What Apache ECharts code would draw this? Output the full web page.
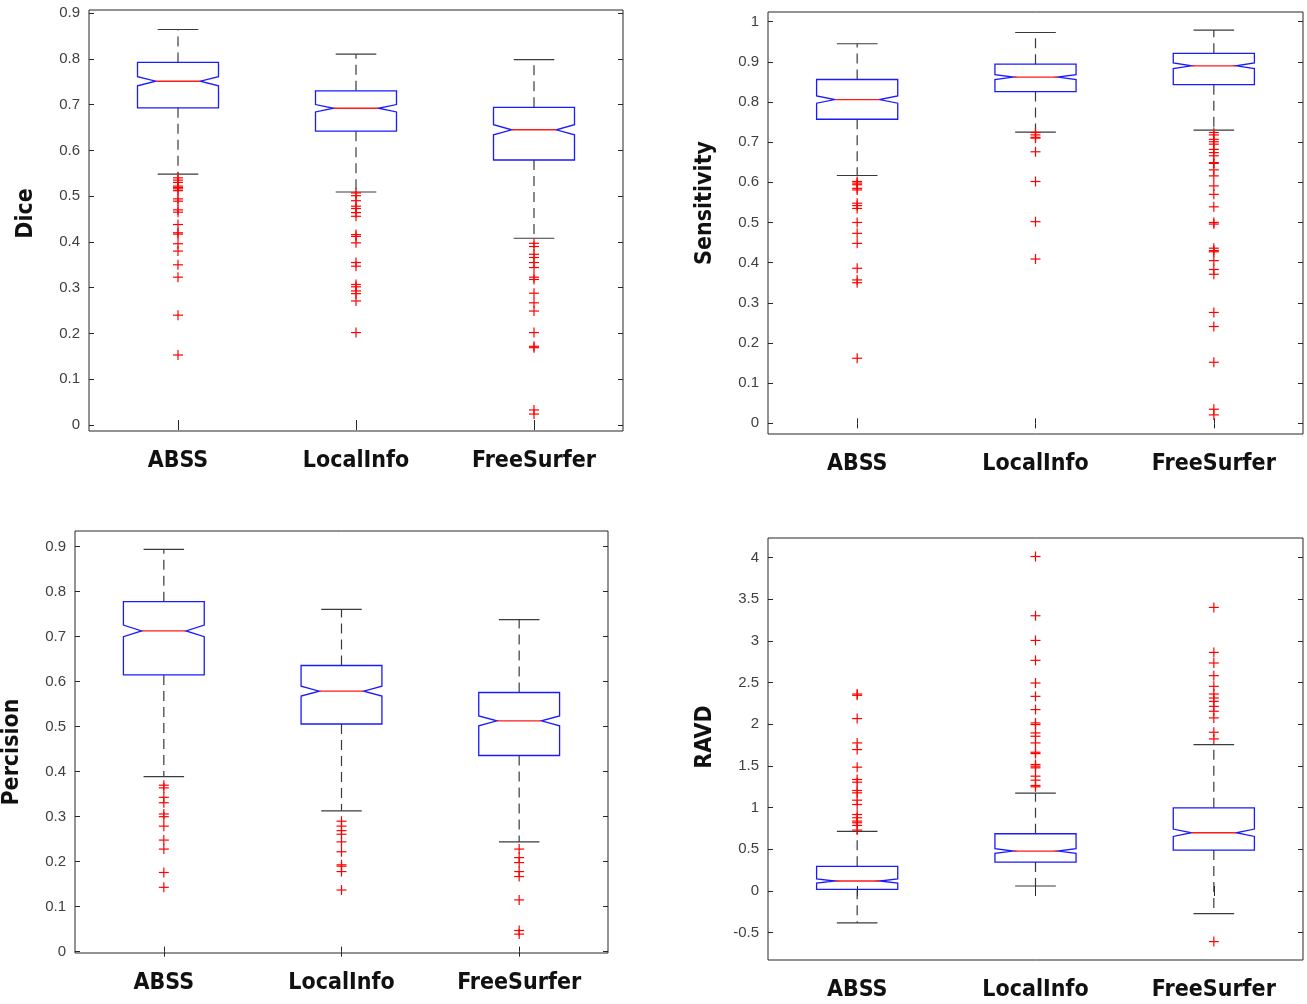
<!DOCTYPE html>
<html>
<head>
<meta charset="utf-8">
<script src="https://cdn.jsdelivr.net/npm/echarts@6/dist/echarts.min.js"></script>
<style>
html,body{margin:0;padding:0;background:#fff;}
#chart{width:1307px;height:1004px;}
</style>
</head>
<body>
<div id="chart"></div>
<script>
// ---------- data ----------
const categories = ['ABSS', 'LocalInfo', 'FreeSurfer'];

// per category: [lower whisker, Q1, median, Q3, upper whisker]
const diceBoxes = [[0.548, 0.693, 0.751, 0.792, 0.864], [0.509, 0.642, 0.692, 0.730, 0.810], [0.408, 0.579, 0.645, 0.694, 0.798]];
const diceNotch = [0.010, 0.008, 0.011];
const diceOutliers = [
  [0.540, 0.535, 0.530, 0.522, 0.519, 0.516, 0.512, 0.494, 0.489, 0.470, 0.465, 0.438, 0.420, 0.417, 0.396, 0.380, 0.350, 0.323, 0.240, 0.153],
  [0.507, 0.501, 0.490, 0.478, 0.473, 0.464, 0.456, 0.416, 0.412, 0.398, 0.355, 0.347, 0.307, 0.302, 0.293, 0.287, 0.271, 0.202],
  [0.397, 0.390, 0.373, 0.366, 0.355, 0.344, 0.323, 0.318, 0.288, 0.267, 0.249, 0.202, 0.172, 0.169, 0.033, 0.024]
];
const diceTicks = [0, 0.1, 0.2, 0.3, 0.4, 0.5, 0.6, 0.7, 0.8, 0.9];

const sensBoxes = [[0.617, 0.757, 0.806, 0.856, 0.945], [0.725, 0.826, 0.862, 0.894, 0.973], [0.730, 0.843, 0.890, 0.921, 0.979]];
const sensNotch = [0.009, 0.006, 0.007];
const sensOutliers = [
  [0.602, 0.598, 0.594, 0.585, 0.581, 0.548, 0.542, 0.535, 0.500, 0.473, 0.448, 0.386, 0.357, 0.350, 0.162],
  [0.724, 0.718, 0.712, 0.710, 0.676, 0.602, 0.502, 0.409],
  [0.724, 0.718, 0.707, 0.701, 0.695, 0.682, 0.674, 0.666, 0.649, 0.647, 0.631, 0.616, 0.591, 0.570, 0.539, 0.500, 0.496, 0.436, 0.430, 0.427, 0.405, 0.383, 0.371, 0.276, 0.241, 0.152, 0.035, 0.021]
];
const sensTicks = [0, 0.1, 0.2, 0.3, 0.4, 0.5, 0.6, 0.7, 0.8, 0.9, 1];

const precBoxes = [[0.389, 0.615, 0.713, 0.778, 0.894], [0.313, 0.506, 0.579, 0.636, 0.761], [0.244, 0.436, 0.513, 0.576, 0.738]];
const precNotch = [0.013, 0.011, 0.011];
const precOutliers = [
  [0.370, 0.364, 0.343, 0.331, 0.306, 0.300, 0.279, 0.248, 0.228, 0.176, 0.143],
  [0.290, 0.279, 0.269, 0.261, 0.244, 0.222, 0.193, 0.190, 0.178, 0.137],
  [0.228, 0.209, 0.198, 0.178, 0.167, 0.115, 0.047, 0.039]
];
const precTicks = [0, 0.1, 0.2, 0.3, 0.4, 0.5, 0.6, 0.7, 0.8, 0.9];

const ravdBoxes = [[-0.383, 0.020, 0.120, 0.296, 0.715], [0.060, 0.347, 0.479, 0.687, 1.174], [-0.272, 0.491, 0.699, 0.998, 1.757]];
const ravdNotch = [0.024, 0.028, 0.044];
const ravdOutliers = [
  [2.364, 2.348, 2.069, 1.777, 1.697, 1.486, 1.338, 1.306, 1.206, 1.178, 1.090, 1.038, 0.918, 0.879, 0.839, 0.819, 0.787, 0.731],
  [4.014, 3.303, 3.007, 2.768, 2.496, 2.336, 2.177, 2.017, 1.997, 1.897, 1.857, 1.777, 1.665, 1.649, 1.518, 1.498, 1.478, 1.378, 1.330, 1.266, 1.250],
  [3.403, 2.863, 2.736, 2.584, 2.456, 2.364, 2.316, 2.276, 2.216, 2.157, 2.077, 1.905, 1.825, -0.607]
];
const ravdTicks = [-0.5, 0, 0.5, 1, 1.5, 2, 2.5, 3, 3.5, 4];

// ---------- panels (layout) ----------
const panels = [
  { name: 'Dice', boxes: diceBoxes, notch: diceNotch, outliers: diceOutliers, ticks: diceTicks,
    min: -0.013, max: 0.9066, grid: { left: 89, top: 10, width: 534, height: 421 }, namePad: [0, 0, 0, 14] },
  { name: 'Sensitivity', boxes: sensBoxes, notch: sensNotch, outliers: sensOutliers, ticks: sensTicks,
    min: -0.0266, max: 1.024, grid: { left: 768, top: 12, width: 535, height: 422 }, namePad: [0, 0, 0, 40] },
  { name: 'Percision', boxes: precBoxes, notch: precNotch, outliers: precOutliers, ticks: precTicks,
    min: -0.003, max: 0.935, grid: { left: 74, top: 531, width: 534, height: 422 }, namePad: [0, 20, 0, 0] },
  { name: 'RAVD', boxes: ravdBoxes, notch: ravdNotch, outliers: ravdOutliers, ticks: ravdTicks,
    min: -0.828, max: 4.236, grid: { left: 768, top: 538, width: 535, height: 422 }, namePad: [0, 0, 0, 24] }
];

const AXIS_COLOR = '#262626';
const LABEL_COLOR = '#404040';
const BOLD_FONT = "'Liberation Sans Narrow', 'DejaVu Sans Condensed', sans-serif";

function fmt(v) { return String(+(+v).toFixed(3)); }

const grids = [], xAxes = [], yAxes = [], series = [];

function renderBox(params, api) {
  const cat = api.value(0);
  const lw = api.value(1), q1 = api.value(2), med = api.value(3), q3 = api.value(4), uw = api.value(5), nh = api.value(6);
  const band = api.size([1, 0])[0];
  const c = api.coord([cat, med]);
  const cx = c[0];
  const hw = band * 0.2275;
  const capHw = band * 0.114;
  const inset = hw * 0.45;
  const L = cx - hw, R = cx + hw;
  const yMed = c[1];
  const yQ1 = api.coord([cat, q1])[1];
  const yQ3 = api.coord([cat, q3])[1];
  const yLW = api.coord([cat, lw])[1];
  const yUW = api.coord([cat, uw])[1];
  const yNHi = api.coord([cat, med + nh])[1];
  const yNLo = api.coord([cat, med - nh])[1];
  const wStyle = { stroke: '#3a3a3a', lineWidth: 1.2, lineDash: [10, 6] };
  const capStyle = { stroke: '#3a3a3a', lineWidth: 1.2 };
  return {
    type: 'group',
    children: [
      { type: 'line', shape: { x1: cx, y1: yQ3, x2: cx, y2: yUW }, style: wStyle },
      { type: 'line', shape: { x1: cx, y1: yQ1, x2: cx, y2: yLW }, style: wStyle },
      { type: 'line', shape: { x1: cx - capHw, y1: yUW, x2: cx + capHw, y2: yUW }, style: capStyle },
      { type: 'line', shape: { x1: cx - capHw, y1: yLW, x2: cx + capHw, y2: yLW }, style: capStyle },
      { type: 'polygon', shape: { points: [
          [L, yQ3], [R, yQ3], [R, yNHi], [R - inset, yMed], [R, yNLo], [R, yQ1],
          [L, yQ1], [L, yNLo], [L + inset, yMed], [L, yNHi]
        ] }, style: { fill: null, stroke: '#1a1aff', lineWidth: 1.3 } },
      { type: 'line', shape: { x1: L + inset, y1: yMed, x2: R - inset, y2: yMed }, style: { stroke: '#ff1a1a', lineWidth: 1.3 } }
    ]
  };
}

function renderPlus(params, api) {
  const p = api.coord([api.value(0), api.value(1)]);
  const s = 5;
  const st = { stroke: '#ff0000', lineWidth: 1.2 };
  return {
    type: 'group',
    children: [
      { type: 'line', shape: { x1: p[0] - s, y1: p[1], x2: p[0] + s, y2: p[1] }, style: st },
      { type: 'line', shape: { x1: p[0], y1: p[1] - s, x2: p[0], y2: p[1] + s }, style: st }
    ]
  };
}

panels.forEach((p, i) => {
  grids.push(Object.assign({ show: true, borderColor: AXIS_COLOR, borderWidth: 1, backgroundColor: '#fff', containLabel: false }, p.grid));
  const xBase = {
    type: 'category', gridIndex: i, data: categories, boundaryGap: true,
    axisLine: { show: false }, splitLine: { show: false }
  };
  xAxes.push(Object.assign({}, xBase, {
    position: 'bottom',
    axisTick: { show: true, inside: true, alignWithLabel: true, length: 5, lineStyle: { color: AXIS_COLOR } },
    axisLabel: { show: true, interval: 0, hideOverlap: false, margin: 19, color: '#111', fontSize: 23, fontWeight: 'bold',
      fontFamily: BOLD_FONT }
  }));
  xAxes.push(Object.assign({}, xBase, {
    position: 'top',
    axisTick: { show: true, inside: true, alignWithLabel: true, length: 5, lineStyle: { color: AXIS_COLOR } },
    axisLabel: { show: false }
  }));
  const yBase = {
    type: 'value', gridIndex: i, min: p.min, max: p.max, scale: true,
    axisLine: { show: false }, splitLine: { show: false }
  };
  yAxes.push(Object.assign({}, yBase, {
    position: 'left',
    name: p.name, nameLocation: 'middle', nameRotate: 90, nameGap: 51,
    nameTextStyle: { color: '#111', fontSize: 23, fontWeight: 'bold', padding: p.namePad, fontFamily: BOLD_FONT },
    axisTick: { show: true, inside: true, length: 5, customValues: p.ticks, lineStyle: { color: AXIS_COLOR } },
    axisLabel: { show: true, customValues: p.ticks, margin: 9, color: LABEL_COLOR, fontSize: 15,
      fontFamily: "'Liberation Sans', Arial, sans-serif", formatter: fmt }
  }));
  yAxes.push(Object.assign({}, yBase, {
    position: 'right',
    axisTick: { show: true, inside: true, length: 5, customValues: p.ticks, lineStyle: { color: AXIS_COLOR } },
    axisLabel: { show: false }
  }));

  const boxData = p.boxes.map((b, k) => [k, b[0], b[1], b[2], b[3], b[4], p.notch[k]]);
  series.push({
    type: 'custom', name: p.name + ' box', xAxisIndex: 2 * i, yAxisIndex: 2 * i,
    renderItem: renderBox, data: boxData, encode: { x: 0, y: [1, 2, 3, 4, 5] }, z: 2, silent: true
  });
  const outData = [];
  p.outliers.forEach((arr, k) => arr.forEach(v => outData.push([k, v])));
  series.push({
    type: 'custom', name: p.name + ' outliers', xAxisIndex: 2 * i, yAxisIndex: 2 * i,
    renderItem: renderPlus, data: outData, encode: { x: 0, y: 1 }, z: 3, silent: true
  });
});

const chart = echarts.init(document.getElementById('chart'), null, { renderer: 'canvas' });
chart.setOption({
  animation: false,
  backgroundColor: '#fff',
  grid: grids,
  xAxis: xAxes,
  yAxis: yAxes,
  series: series
});
</script>
</body>
</html>
